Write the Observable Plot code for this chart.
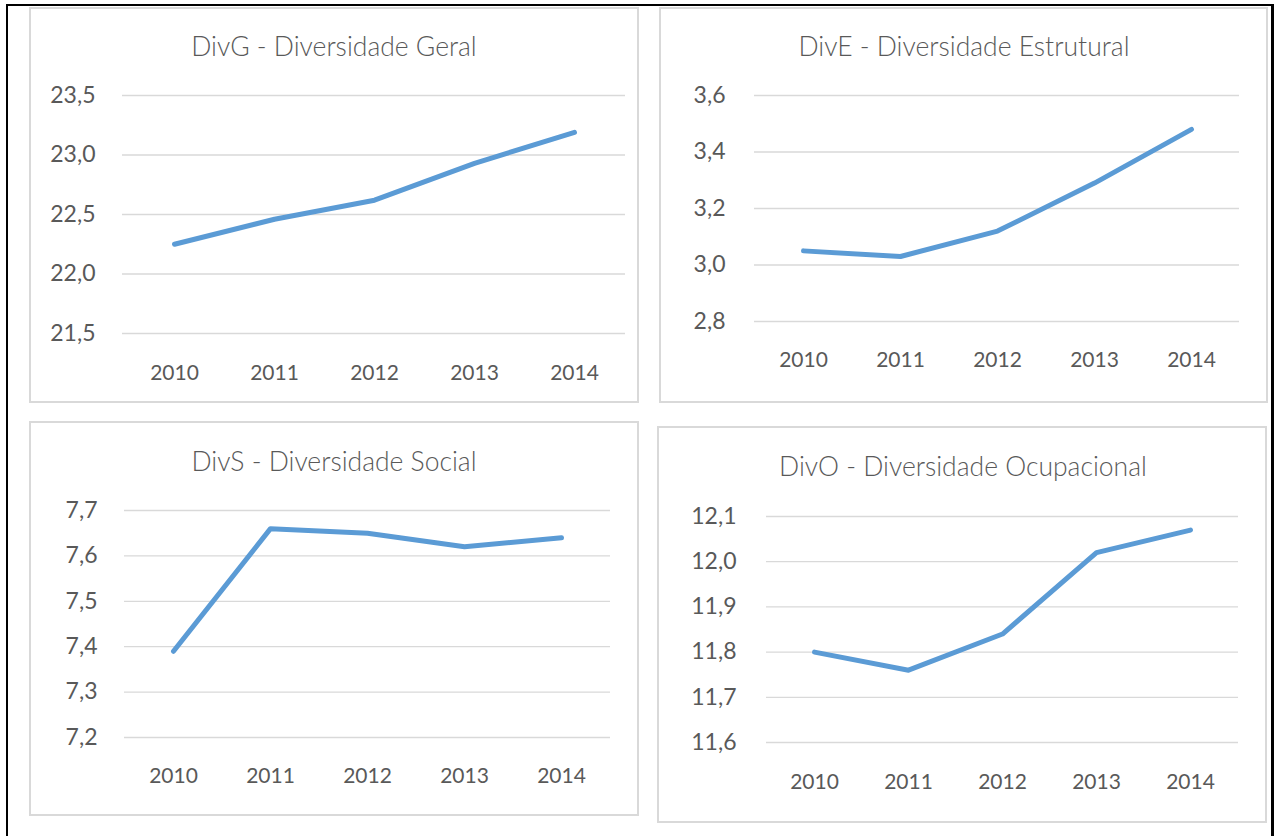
<!DOCTYPE html>
<html>
<head>
<meta charset="utf-8">
<script src="https://cdn.jsdelivr.net/npm/d3@7"></script>
<script src="https://cdn.jsdelivr.net/npm/@observablehq/plot@0.6"></script>
<style>
  html, body { margin: 0; padding: 0; background: #fff; width: 1277px; height: 836px; overflow: hidden; }
  #page { position: relative; width: 1277px; height: 836px; }
  .frame { position: absolute; left: 6px; top: 4px; width: 1268px; height: 860px; box-sizing: border-box;
           border: 2px solid #000; border-right-width: 3px; }
  .panel { position: absolute; box-sizing: border-box; border: 2px solid #d9d9d9; }
  .svgwrap { position: absolute; }
  .svgwrap g[aria-label^="y-axis"] text { font-size: 23px; }
  .title { position: absolute; white-space: nowrap; font-family: Lato, sans-serif; font-size: 26.5px;
           font-weight: 300; line-height: 32px; color: #595959; transform: translateX(-50%); }
</style>
</head>
<body>
<div id="page"><div class="frame"></div></div>
<script>
// ---- data ----
const years = ["2010", "2011", "2012", "2013", "2014"];

const titles = [
  "DivG - Diversidade Geral",
  "DivE - Diversidade Estrutural",
  "DivS - Diversidade Social",
  "DivO - Diversidade Ocupacional"
];

const divG = [22.25, 22.46, 22.62, 22.93, 23.19];
const divE = [3.05, 3.03, 3.12, 3.29, 3.48];
const divS = [7.39, 7.66, 7.65, 7.62, 7.64];
const divO = [11.80, 11.76, 11.84, 12.02, 12.07];

const ticksG = [21.5, 22.0, 22.5, 23.0, 23.5];
const ticksE = [2.8, 3.0, 3.2, 3.4, 3.6];
const ticksS = [7.2, 7.3, 7.4, 7.5, 7.6, 7.7];
const ticksO = [11.6, 11.7, 11.8, 11.9, 12.0, 12.1];

// ---- layout (page coordinates) ----
const panels = [
  {title: titles[0], values: divG, ticks: ticksG,
   box: [29, 7, 639, 403], plot: [122, 95, 625, 333], titleC: [334, 47], yPad: 27, xPad: 32},
  {title: titles[1], values: divE, ticks: ticksE,
   box: [659, 7, 1268, 403], plot: [754, 95, 1239, 321], titleC: [964, 47], yPad: 29, xPad: 31},
  {title: titles[2], values: divS, ticks: ticksS,
   box: [29, 421, 639, 816], plot: [124, 510, 610, 737], titleC: [334, 462], yPad: 27, xPad: 31},
  {title: titles[3], values: divO, ticks: ticksO,
   box: [657, 426, 1267, 823], plot: [766, 516, 1238, 742], titleC: [963, 467], yPad: 30, xPad: 32}
];

const fmt = v => d3.format(".1f")(v).replace(".", ",");
const page = document.getElementById("page");

for (const p of panels) {
  const [bx0, by0, bx1, by1] = p.box;
  const [px0, py0, px1, py1] = p.plot;

  const box = document.createElement("div");
  box.className = "panel";
  Object.assign(box.style, {left: bx0 + "px", top: by0 + "px", width: (bx1 - bx0) + "px", height: (by1 - by0) + "px"});
  page.appendChild(box);

  const data = years.map((y, i) => ({year: y, value: p.values[i]}));
  const svg = Plot.plot({
    width: bx1 - bx0,
    height: by1 - by0,
    marginLeft: px0 - bx0,
    marginRight: bx1 - px1,
    marginTop: py0 - by0,
    marginBottom: by1 - py1,
    style: {background: "transparent", color: "#595959", fontFamily: "Lato, sans-serif", fontSize: "21px", overflow: "visible"},
    x: {type: "point", domain: years, padding: 0.5, tickSize: 0, tickPadding: p.xPad, label: null},
    y: {domain: d3.extent(p.ticks), ticks: p.ticks, tickFormat: fmt, tickSize: 0, tickPadding: p.yPad, label: null},
    marks: [
      Plot.ruleY(p.ticks, {stroke: "#d9d9d9", strokeWidth: 1.3}),
      Plot.line(data, {x: "year", y: "value", stroke: "#5b9bd5", strokeWidth: 5,
                       strokeLinecap: "round", strokeLinejoin: "round"})
    ]
  });
  const wrap = document.createElement("div");
  wrap.className = "svgwrap";
  Object.assign(wrap.style, {left: bx0 + "px", top: by0 + "px"});
  wrap.appendChild(svg);
  page.appendChild(wrap);

  const t = document.createElement("div");
  t.className = "title";
  t.textContent = p.title;
  Object.assign(t.style, {left: p.titleC[0] + "px", top: (p.titleC[1] - 17) + "px"});
  page.appendChild(t);
}
</script>
</body>
</html>
